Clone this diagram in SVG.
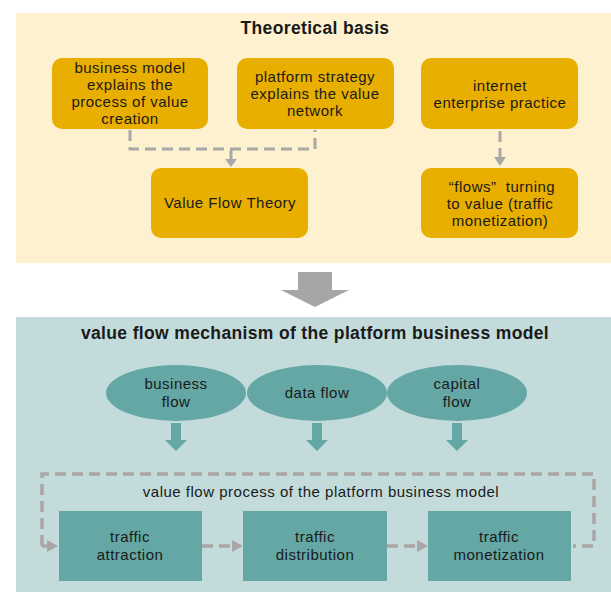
<svg xmlns="http://www.w3.org/2000/svg" width="611" height="592" viewBox="0 0 611 592">
<defs>
<style>
text{font-family:"Liberation Sans","Open Sans","DejaVu Sans",sans-serif;fill:#1a1a1a;text-anchor:middle}
.t{font-size:15px;letter-spacing:0.5px}
.h{font-size:17.5px;font-weight:bold;letter-spacing:0.35px}
.gold{fill:#E8AE00}
.teal{fill:#64A7A4}
.dash{fill:none;stroke:#A8A8A8;stroke-width:3;stroke-dasharray:11 6}
.dash2{fill:none;stroke:#ABA5A6;stroke-width:3.5;stroke-dasharray:11 6}
</style>
</defs>
<rect x="16" y="13" width="595" height="250" fill="#FEF1CF"/>
<rect x="16" y="317" width="595" height="275" fill="#C3DCDB"/>
<text class="h" x="315" y="34">Theoretical basis</text>
<text class="h" x="315" y="339">value flow mechanism of the platform business model</text>
<path d="M298,272 H332 V290 H349 L315,307 L281,290 H298 Z" fill="#A6A6A6"/>
<g id="connectors">
<path class="dash" d="M130,130 V149 H315 V130"/>
<path d="M231,150 V160" stroke="#A8A8A8" stroke-width="3"/>
<path d="M225,159 L237,159 L231,167 Z" fill="#A8A8A8"/>
<path class="dash" d="M500,131 V157"/>
<path d="M494,157 L506,157 L500,166 Z" fill="#A8A8A8"/>
<path class="dash2" d="M42,546 V474 H594 V546 H573"/>
<path class="dash2" d="M42,546 H48"/>
<path d="M47,540 L58,546 L47,552 Z" fill="#ABA5A6"/>
<path class="dash2" d="M202,546 H232"/>
<path d="M232,540 L243,546 L232,552 Z" fill="#ABA5A6"/>
<path class="dash2" d="M387,546 H417"/>
<path d="M417,540 L428,546 L417,552 Z" fill="#ABA5A6"/>
<path d="M171,423 H181 V440 H187 L176,451 L165,440 H171 Z" class="teal"/>
<path d="M312,423 H322 V440 H328 L317,451 L306,440 H312 Z" class="teal"/>
<path d="M452,423 H462 V440 H468 L457,451 L446,440 H452 Z" class="teal"/>
</g>
<g id="n1"><rect class="gold" x="52" y="58" width="156" height="71" rx="10"/>
<text class="t" x="130" y="73">business model</text><text class="t" x="130" y="90">explains the</text><text class="t" x="130" y="107">process of value</text><text class="t" x="130" y="124">creation</text></g>
<g id="n2"><rect class="gold" x="237" y="58" width="157" height="71" rx="10"/>
<text class="t" x="315" y="82">platform strategy</text><text class="t" x="315" y="99">explains the value</text><text class="t" x="315" y="116">network</text></g>
<g id="n3"><rect class="gold" x="421" y="58" width="157" height="71" rx="10"/>
<text class="t" x="500" y="91">internet</text><text class="t" x="500" y="108">enterprise practice</text></g>
<g id="n4"><rect class="gold" x="151" y="168" width="157" height="70" rx="10"/>
<text class="t" x="230" y="208">Value Flow Theory</text></g>
<g id="n5"><rect class="gold" x="421" y="168" width="157" height="70" rx="10"/>
<text class="t" x="502" y="192" xml:space="preserve">“flows”  turning</text><text class="t" x="500" y="209">to value (traffic</text><text class="t" x="500" y="226">monetization)</text></g>
<g id="e1"><ellipse class="teal" cx="176" cy="393" rx="70" ry="28"/>
<text class="t" x="176" y="389">business</text><text class="t" x="176" y="407">flow</text></g>
<g id="e2"><ellipse class="teal" cx="317" cy="393" rx="70" ry="28"/>
<text class="t" x="317" y="398">data flow</text></g>
<g id="e3"><ellipse class="teal" cx="457" cy="393" rx="70" ry="28"/>
<text class="t" x="457" y="389">capital</text><text class="t" x="457" y="407">flow</text></g>
<text class="t" x="321" y="497">value flow process of the platform business model</text>
<g id="b1"><rect class="teal" x="59" y="511" width="143" height="70"/>
<text class="t" x="130" y="542">traffic</text><text class="t" x="130" y="560">attraction</text></g>
<g id="b2"><rect class="teal" x="243" y="511" width="144" height="70"/>
<text class="t" x="315" y="542">traffic</text><text class="t" x="315" y="560">distribution</text></g>
<g id="b3"><rect class="teal" x="428" y="511" width="143" height="70"/>
<text class="t" x="499" y="542">traffic</text><text class="t" x="499" y="560">monetization</text></g>
</svg>
